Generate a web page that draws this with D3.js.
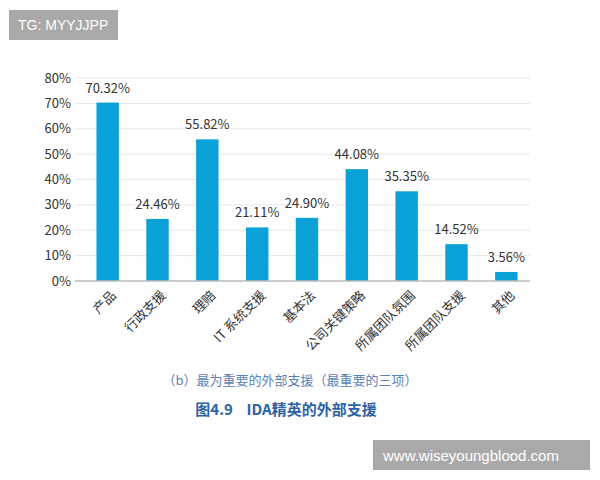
<!DOCTYPE html>
<html><head><meta charset="utf-8">
<script src="https://cdn.jsdelivr.net/npm/d3@7"></script>
<style>body{margin:0;background:#fff;font-family:"Noto Sans CJK SC","Noto Sans",sans-serif}</style>
</head><body><div id="wrapper"></div>
<script>
const categories = ["产品","行政支援","理赔","IT 系统支援","基本法","公司关键策略","所属团队氛围","所属团队支援","其他"]
const values = [70.32, 24.46, 55.82, 21.11, 24.90, 44.08, 35.35, 14.52, 3.56]
const yTicks = [0, 10, 20, 30, 40, 50, 60, 70, 80]

const svg = d3.select("#wrapper").append("svg").attr("width", 600).attr("height", 480)

const x = d3.scaleBand().domain(categories).range([84, 530]).paddingInner(0.55).paddingOuter(0.25)
const y = d3.scaleLinear().domain([0, 80]).range([281, 78])

// gridlines
svg.append("g").selectAll("line").data(yTicks.slice(1)).join("line")
  .attr("x1", 75).attr("x2", 530).attr("y1", d => y(d)).attr("y2", d => y(d))
  .attr("stroke", "#e6e6e6")

// y tick labels
svg.append("g").selectAll("text").data(yTicks).join("text")
  .attr("x", 71).attr("y", d => y(d)).attr("dy", "0.35em")
  .attr("text-anchor", "end").attr("font-size", 13).attr("fill", "#333")
  .text(d => d + "%")

// bars
svg.append("g").selectAll("rect").data(values).join("rect")
  .attr("x", (d, i) => x(categories[i])).attr("width", x.bandwidth())
  .attr("y", d => y(d)).attr("height", d => y(0) - y(d))
  .attr("fill", "#0aa0d8")

// value labels
svg.append("g").selectAll("text").data(values).join("text")
  .attr("x", (d, i) => x(categories[i]) + x.bandwidth() / 2)
  .attr("y", d => y(d) - 10)
  .attr("text-anchor", "middle").attr("font-size", 13).attr("fill", "#333")
  .text(d => d.toFixed(2) + "%")

// baseline
svg.append("line").attr("x1", 75).attr("x2", 530).attr("y1", y(0)).attr("y2", y(0))
  .attr("stroke", "#bbb").attr("stroke-width", 1.5)

// category labels
svg.append("g").selectAll("text").data(categories).join("text")
  .attr("transform", d => `translate(${x(d) + x.bandwidth() / 2 + 6},${y(0) + 12}) rotate(-45)`)
  .attr("text-anchor", "end").attr("dy", "0.35em")
  .attr("font-size", 13).attr("fill", "#333")
  .text(d => d)

// captions
svg.append("text").attr("x", 290).attr("y", 385).attr("text-anchor", "middle")
  .attr("font-size", 13).attr("fill", "#5a82b8").text("（b）最为重要的外部支援（最重要的三项）")
svg.append("text").attr("x", 286).attr("y", 415).attr("text-anchor", "middle")
  .attr("font-size", 15).attr("font-weight", "bold").attr("fill", "#2d62a3")
  .attr("xml:space", "preserve").text("图4.9    IDA精英的外部支援")

// watermarks
svg.append("rect").attr("x", 9).attr("y", 10).attr("width", 109).attr("height", 30).attr("fill", "#a9a9a9")
svg.append("text").attr("x", 18).attr("y", 30).attr("font-size", 14).attr("fill", "#fff")
  .attr("font-family", "Liberation Sans, Arial").text("TG: MYYJJPP")
svg.append("rect").attr("x", 373).attr("y", 440).attr("width", 217).attr("height", 30).attr("fill", "#a9a9a9")
svg.append("text").attr("x", 383).attr("y", 461).attr("font-size", 15).attr("fill", "#fff")
  .attr("font-family", "Liberation Sans, Arial").text("www.wiseyoungblood.com")
</script></body></html>
